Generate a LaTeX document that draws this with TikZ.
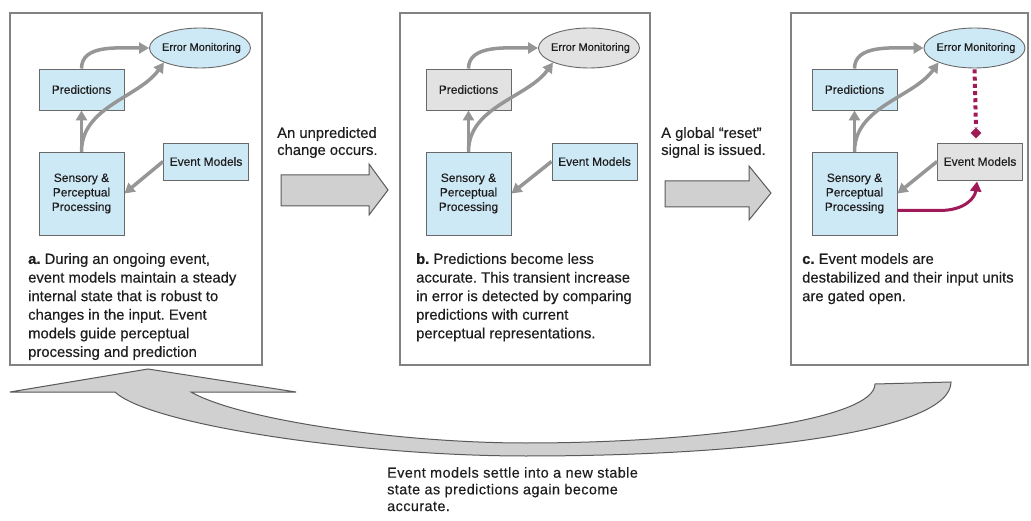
\documentclass[tikz,border=0pt]{standalone}
\usepackage{fontspec}
\setmainfont[FakeBold=0.35]{Liberation Sans}
\usetikzlibrary{shapes.geometric,arrows.meta,calc}
\definecolor{bluefill}{RGB}{206,233,246}
\definecolor{grayfill}{RGB}{226,226,226}
\definecolor{edgegray}{RGB}{105,105,105}
\definecolor{panelgray}{RGB}{130,130,130}
\definecolor{arrowgray}{RGB}{150,150,150}
\definecolor{blockfill}{RGB}{208,208,208}
\definecolor{blockedge}{RGB}{90,90,90}
\definecolor{magentaline}{RGB}{160,26,90}
\definecolor{textcol}{RGB}{30,30,30}
\begin{document}
\frenchspacing
\begin{tikzpicture}[x=1pt,y=-1pt,
  every node/.style={text=textcol},
  panel/.style={draw=panelgray,line width=1.3pt},
  bbox/.style={rectangle,draw=edgegray,line width=0.9pt,fill=bluefill,font=\fontsize{12}{14.5}\selectfont,align=center,inner sep=0pt},
  gbox/.style={bbox,fill=grayfill},
  ebox/.style={ellipse,draw=edgegray,line width=0.9pt,fill=bluefill,font=\fontsize{11}{14}\selectfont,minimum width=101pt,minimum height=40pt,inner sep=0pt},
  gell/.style={ebox,fill=grayfill},
  predbox/.style={minimum width=85pt,minimum height=41pt},
  sensbox/.style={minimum width=85pt,minimum height=83pt},
  evbox/.style={minimum width=85pt,minimum height=37pt},
  garrow/.style={draw=arrowgray,line width=3.5pt,-{Triangle[length=10pt,width=11pt]}},
  marrow/.style={draw=magentaline,line width=3pt,-{Triangle[length=10pt,width=11pt]}},
  mdots/.style={draw=magentaline,line width=4pt,dash pattern=on 4pt off 3.2pt},
  ptext/.style={anchor=north west,align=left,inner sep=0pt,font=\fontsize{14.8}{18.6}\selectfont},
  mtext/.style={anchor=north west,align=left,inner sep=0pt,font=\fontsize{14.8}{17}\selectfont},
  block/.style={draw=blockedge,line width=1pt,fill=blockfill,line join=miter}
]
\useasboundingbox (0,0) rectangle (1031,521);
\fill[white] (0,0) rectangle (1031,521);

% panels
\draw[panel] (10,13) rectangle (262,365);
\draw[panel] (400,13) rectangle (650,365);
\draw[panel] (791,13) rectangle (1028,365);

% ---------- panel a ----------
\node[ebox] (aerr) at (200,48) {\makebox[0pt][c]{\hspace{3pt}Error Monitoring}};
\node[bbox,predbox] (apred) at (81.5,89.5) {Predictions};
\node[bbox,sensbox] (asens) at (81.5,193.5) {Sensory \&\\Perceptual\\Processing};
\node[bbox,evbox] (aev) at (206,161.5) {Event Models};
\draw[garrow] (apred.north) .. controls +(0,-24) and +(-32,0) .. (aerr.west);
\draw[garrow] (asens.north) -- (apred.south);
\draw[garrow] (asens.north) .. controls +(0,-45) and +(-25,35) .. (aerr.south west);
\draw[garrow] (aev.west) -- (asens.east);
\node[ptext] (atext) at (28,253) {\textbf{a.} During an ongoing event,\\event models maintain a steady\\internal state that is robust to\\changes in the input. Event\\models guide perceptual\\processing and prediction};

% ---------- panel b ----------
\node[gell] (berr) at (589,48) {\makebox[0pt][c]{\hspace{3pt}Error Monitoring}};
\node[gbox,predbox] (bpred) at (468.5,89.5) {Predictions};
\node[bbox,sensbox] (bsens) at (468.5,193.5) {Sensory \&\\Perceptual\\Processing};
\node[bbox,evbox] (bev) at (594.5,161.5) {Event Models};
\draw[garrow] (bpred.north) .. controls +(0,-24) and +(-32,0) .. (berr.west);
\draw[garrow] (bsens.north) -- (bpred.south);
\draw[garrow] (bsens.north) .. controls +(0,-45) and +(-25,35) .. (berr.south west);
\draw[garrow] (bev.west) -- (bsens.east);
\node[ptext] (btext) at (416,253) {\textbf{b.} Predictions become less\\accurate. This transient increase\\in error is detected by comparing\\predictions with current\\perceptual representations.};

% ---------- panel c ----------
\node[ebox] (cerr) at (974.5,48) {\makebox[0pt][c]{\hspace{3pt}Error Monitoring}};
\node[bbox,predbox] (cpred) at (854.5,89.5) {Predictions};
\node[bbox,sensbox] (csens) at (854.5,193.5) {Sensory \&\\Perceptual\\Processing};
\node[gbox,evbox] (cev) at (980,161.5) {Event Models};
\draw[garrow] (cpred.north) .. controls +(0,-24) and +(-32,0) .. (cerr.west);
\draw[garrow] (csens.north) -- (cpred.south);
\draw[garrow] (csens.north) .. controls +(0,-45) and +(-25,35) .. (cerr.south west);
\draw[garrow] (cev.west) -- (csens.east);
\node[diamond,fill=magentaline,minimum width=11pt,minimum height=11pt,inner sep=0pt] (cdia) at (976,133) {};
\draw[mdots] ($(cerr.south)+(0,1)$) -- (cdia.north);
\draw[marrow] ($(csens.east)+(0,17)$) -- ++(42,0) .. controls +(26,0) and +(-2,16) .. ($(cev.south)+(-3,1)$);
\node[ptext] (ctext) at (802,253) {\textbf{c.} Event models are\\destabilized and their input units\\are gated open.};

% ---------- middle block arrows ----------
\node[mtext] (m1) at (277,127) {An unpredicted\\change occurs.};
\draw[block] (281,175) -- (369,175) -- (369,164) -- (388,190) -- (369,215) -- (369,206) -- (281,206) -- cycle;
\node[mtext] (m2) at (661,127) {A global “reset”\\signal is issued.};
\draw[block] (665,181) -- (749,181) -- (749,166) -- (771,193) -- (749,220) -- (749,207) -- (665,207) -- cycle;

% ---------- big return arrow ----------
\draw[block] (951,382) .. controls (951,430) and (760,456) .. (526,456)
  .. controls (360,456) and (150,425) .. (115,392)
  -- (10,392) -- (148,369) -- (296,392) -- (191,392)
  .. controls (240,420) and (400,443) .. (526,443)
  .. controls (700,443) and (875,420) .. (875,384) -- cycle;
\node[mtext,font=\fontsize{14.4}{16.7}\selectfont\addfontfeature{LetterSpace=3}] (btm) at (387,467) {Event models settle into a new stable\\state as predictions again become\\accurate.};
\end{tikzpicture}
\end{document}
